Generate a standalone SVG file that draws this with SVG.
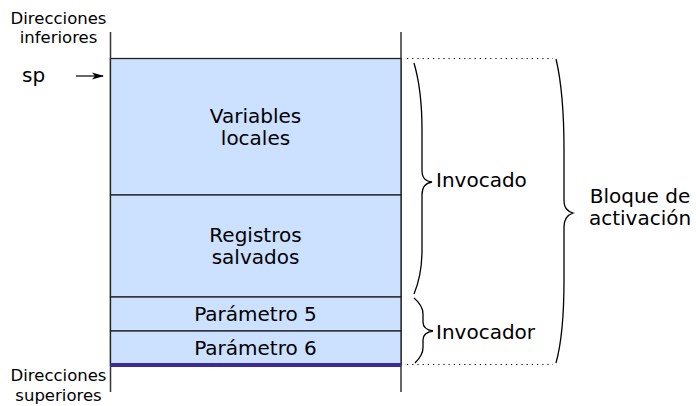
<svg xmlns="http://www.w3.org/2000/svg" width="696" height="406" viewBox="0 0 696 406">
<style>
text{font-family:"DejaVu Sans","Liberation Sans",sans-serif;fill:#000}
.big{font-size:20px}
.small{font-size:16.5px}
.mid{text-anchor:middle}
.cell{fill:#cce0ff;stroke:#222;stroke-width:1.3}
.axis{stroke:#333;stroke-width:1.5;fill:none}
.brace{stroke:#000;stroke-width:1.3;fill:none}
.dot{stroke:#000;stroke-width:1.2;stroke-dasharray:1.2 4;fill:none}
</style>
<defs>
<marker id="ah" markerWidth="12" markerHeight="8" refX="11" refY="4" orient="auto" markerUnits="userSpaceOnUse">
<path d="M0,0.5 L12,4 L0,7.5 L3,4 Z" fill="#000"/>
</marker>
</defs>
<g id="labels">
<text class="small mid" x="58.5" y="24">Direcciones</text>
<text class="small mid" x="58.5" y="43">inferiores</text>
<text class="small mid" x="58.5" y="381">Direcciones</text>
<text class="small mid" x="58.5" y="401">superiores</text>
<text class="big" x="22" y="82">sp</text>
</g>
<g id="connectors">
<line x1="76" y1="76" x2="103" y2="76" stroke="#000" stroke-width="1.2" marker-end="url(#ah)"/>
<line class="axis" x1="110.5" y1="32" x2="110.5" y2="392"/>
<line class="axis" x1="401" y1="32" x2="401" y2="392"/>
<line class="dot" x1="407" y1="58.5" x2="553" y2="58.5"/>
<line class="dot" x1="407" y1="364.5" x2="553" y2="364.5"/>
</g>
<g id="var-locales">
<rect class="cell" x="110.5" y="58.5" width="290.5" height="136.5"/>
<text class="big mid" x="255.5" y="123">Variables</text>
<text class="big mid" x="255.5" y="145">locales</text>
</g>
<g id="registros">
<rect class="cell" x="110.5" y="195" width="290.5" height="102"/>
<text class="big mid" x="255.5" y="242">Registros</text>
<text class="big mid" x="255.5" y="264">salvados</text>
</g>
<g id="param5">
<rect class="cell" x="110.5" y="297" width="290.5" height="34"/>
<text class="big mid" x="255.5" y="321">Parámetro 5</text>
</g>
<g id="param6">
<rect class="cell" x="110.5" y="331" width="290.5" height="34"/>
<text class="big mid" x="255.5" y="355">Parámetro 6</text>
<line x1="110" y1="365" x2="401" y2="365" stroke="#3a2a9a" stroke-width="4"/>
</g>
<g id="invocado">
<path class="brace" d="M414,63 C419,80 422,100 422,130 L422,170 C422,178 425,181 432,182 C425,183 422,187 422,195 L422,250 C422,270 419,282 414,294"/>
<text class="big" x="436" y="187">Invocado</text>
</g>
<g id="invocador">
<path class="brace" d="M414,298 C420,303 423,308 423,314 L423,322 C423,327 426,330 433,331 C426,332 423,335 423,340 L423,348 C423,354 420,358 415,363"/>
<text class="big" x="436" y="339">Invocador</text>
</g>
<g id="bloque">
<path class="brace" d="M556,59 C561,80 564,110 564,150 L564,200 C564,208 567,211 573,213 C567,215 564,219 564,227 L564,280 C564,320 561,345 556,363"/>
<text class="big mid" x="640" y="203">Bloque de</text>
<text class="big mid" x="640" y="225">activación</text>
</g>
</svg>
